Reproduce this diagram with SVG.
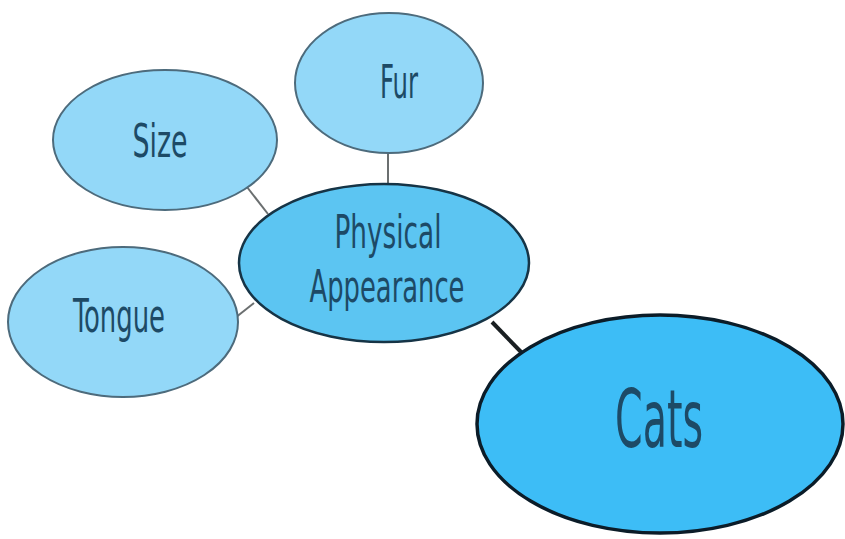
<svg xmlns="http://www.w3.org/2000/svg" width="845" height="539" viewBox="0 0 845 539">
<style>
.leaf{fill:#93d8f8;stroke:#4d6b7c;stroke-width:2}
.mid{fill:#5cc5f2;stroke:#163446;stroke-width:2.5}
.root{fill:#3dbdf6;stroke:#0b1c28;stroke-width:3.5}
text{font-family:"Liberation Sans Narrow","DejaVu Sans Condensed","Liberation Sans",sans-serif;fill:#1d4a66;text-anchor:middle}
.thin{stroke:#6b6f70;stroke-width:2;fill:none}
.thick{stroke:#1a1f22;stroke-width:4;fill:none}
</style>
<rect width="845" height="539" fill="#ffffff"/>
<g id="connectors">
<line class="thin" x1="388" y1="152" x2="388" y2="186"/>
<line class="thin" x1="247" y1="187" x2="268" y2="214"/>
<line class="thin" x1="235" y1="318" x2="254" y2="303"/>
<line class="thick" x1="492" y1="322" x2="523" y2="354"/>
</g>
<g id="fur">
<ellipse class="leaf" cx="389" cy="83" rx="94" ry="70"/>
<text x="399" y="98" font-size="46" textLength="38" lengthAdjust="spacingAndGlyphs">Fur</text>
</g>
<g id="size">
<ellipse class="leaf" cx="165" cy="140" rx="112" ry="70"/>
<text x="160" y="157" font-size="47" textLength="55" lengthAdjust="spacingAndGlyphs">Size</text>
</g>
<g id="tongue">
<ellipse class="leaf" cx="123" cy="322" rx="115" ry="75"/>
<text x="119" y="332" font-size="46" textLength="92" lengthAdjust="spacingAndGlyphs">Tongue</text>
</g>
<g id="physical-appearance">
<ellipse class="mid" cx="384" cy="263" rx="145" ry="79"/>
<text x="388" y="248" font-size="46" textLength="107" lengthAdjust="spacingAndGlyphs">Physical</text>
<text x="387" y="302" font-size="45" textLength="155" lengthAdjust="spacingAndGlyphs">Appearance</text>
</g>
<g id="cats">
<ellipse class="root" cx="660" cy="424" rx="183" ry="109"/>
<text x="659" y="447" font-size="80" textLength="88" lengthAdjust="spacingAndGlyphs">Cats</text>
</g>
</svg>
